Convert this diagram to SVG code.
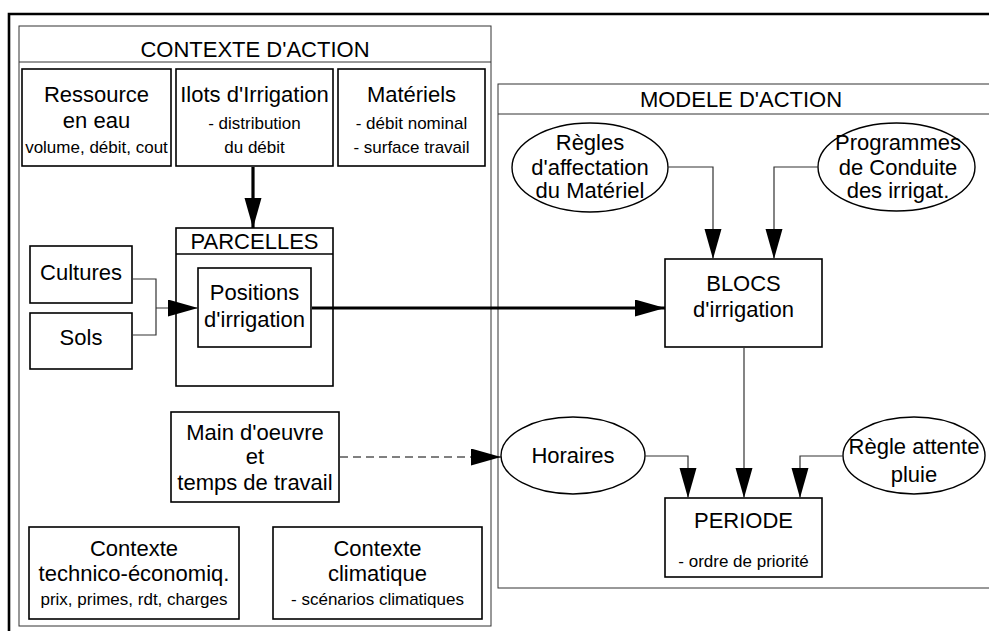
<svg xmlns="http://www.w3.org/2000/svg" width="989" height="631" viewBox="0 0 989 631">
<defs>
<marker id="ah" markerUnits="userSpaceOnUse" markerWidth="31" markerHeight="18" refX="30" refY="8.5" orient="auto">
<path d="M0,0 L30,8.5 L0,17 z" fill="#000"/>
</marker>
</defs>
<style>
text{font-family:"Liberation Sans",Arial,sans-serif;fill:#000;text-anchor:middle}
.b{font-size:22px}
.s{font-size:17px}
.box{fill:#fff;stroke:#000;stroke-width:1.6}
.frame{fill:none;stroke:#333;stroke-width:1}
.ell{fill:#fff;stroke:#000;stroke-width:1.4}
.c{fill:none;stroke:#333;stroke-width:1.2}
.thick{fill:none;stroke:#000;stroke-width:3.2}
</style>
<rect width="989" height="631" fill="#fff"/>
<path d="M9,631 V14 H989" fill="none" stroke="#000" stroke-width="2.6"/>

<g id="contexte-action">
<rect class="frame" x="19" y="26" width="472" height="600"/>
<line class="frame" x1="19" y1="62" x2="491" y2="62"/>
<text class="b" x="255" y="57">CONTEXTE D'ACTION</text>
</g>

<g id="modele-action">
<rect class="frame" x="498" y="84" width="520" height="504"/>
<line class="frame" x1="498" y1="114" x2="989" y2="114"/>
<text class="b" x="741" y="107">MODELE D'ACTION</text>
</g>

<g id="ressource">
<rect class="box" x="22" y="69" width="149" height="97"/>
<text class="b" x="96.5" y="102">Ressource</text>
<text class="b" x="96.5" y="128">en eau</text>
<text class="s" x="96.5" y="153">volume, débit, cout</text>
</g>

<g id="ilots">
<rect class="box" x="176" y="69" width="157" height="97"/>
<text class="b" x="254.5" y="102">Ilots d'Irrigation</text>
<text class="s" x="254.5" y="129">- distribution</text>
<text class="s" x="254.5" y="153">du débit</text>
</g>

<g id="materiels">
<rect class="box" x="338" y="69" width="147" height="97"/>
<text class="b" x="411.5" y="102">Matériels</text>
<text class="s" x="411.5" y="129">- débit nominal</text>
<text class="s" x="411.5" y="153">- surface travail</text>
</g>

<g id="parcelles">
<rect class="box" x="176" y="228" width="157" height="158"/>
<line class="box" x1="176" y1="254" x2="333" y2="254"/>
<text class="b" x="254.5" y="249">PARCELLES</text>
</g>

<g id="positions">
<rect class="box" x="198" y="268" width="113" height="79"/>
<text class="b" x="254.5" y="300">Positions</text>
<text class="b" x="254.5" y="327">d'irrigation</text>
</g>

<g id="cultures">
<rect class="box" x="30" y="246" width="102" height="57"/>
<text class="b" x="81" y="280">Cultures</text>
</g>

<g id="sols">
<rect class="box" x="30" y="313" width="102" height="56"/>
<text class="b" x="81" y="345">Sols</text>
</g>

<g id="main-oeuvre">
<rect class="box" x="171" y="412" width="168" height="90"/>
<text class="b" x="255" y="440">Main d'oeuvre</text>
<text class="b" x="255" y="464">et</text>
<text class="b" x="255" y="490">temps de travail</text>
</g>

<g id="contexte-technico">
<rect class="box" x="29" y="527" width="210" height="92"/>
<text class="b" x="134" y="556">Contexte</text>
<text class="b" x="134" y="581">technico-économiq.</text>
<text class="s" x="134" y="605">prix, primes, rdt, charges</text>
</g>

<g id="contexte-climatique">
<rect class="box" x="273" y="527" width="209" height="92"/>
<text class="b" x="377.5" y="556">Contexte</text>
<text class="b" x="377.5" y="581">climatique</text>
<text class="s" x="377.5" y="605">- scénarios climatiques</text>
</g>

<g id="regles-affectation">
<ellipse class="ell" cx="590" cy="167.5" rx="78" ry="44.5"/>
<text class="b" x="590" y="150">Règles</text>
<text class="b" x="590" y="175">d'affectation</text>
<text class="b" x="590" y="198">du Matériel</text>
</g>

<g id="programmes">
<ellipse class="ell" cx="896.5" cy="167" rx="78.5" ry="44"/>
<text class="b" x="898" y="150">Programmes</text>
<text class="b" x="898" y="175">de Conduite</text>
<text class="b" x="898" y="198">des irrigat.</text>
</g>

<g id="blocs">
<rect class="box" x="665" y="259" width="157" height="88"/>
<text class="b" x="743.5" y="291">BLOCS</text>
<text class="b" x="743.5" y="317">d'irrigation</text>
</g>

<g id="horaires">
<ellipse class="ell" cx="573" cy="455.5" rx="72" ry="38.5"/>
<text class="b" x="573" y="463">Horaires</text>
</g>

<g id="regle-attente">
<ellipse class="ell" cx="914" cy="455.5" rx="71" ry="38.5"/>
<text class="b" x="914" y="454">Règle attente</text>
<text class="b" x="914" y="482">pluie</text>
</g>

<g id="periode">
<rect class="box" x="665" y="498" width="157" height="79"/>
<text class="b" x="743.5" y="528">PERIODE</text>
<text class="s" x="743.5" y="567">- ordre de priorité</text>
</g>

<g id="connectors">
<line class="thick" x1="253" y1="167" x2="253" y2="228" marker-end="url(#ah)"/>
<polyline class="c" points="132,279 156,279 156,335 132,335"/>
<line class="c" x1="156" y1="308" x2="198" y2="308" marker-end="url(#ah)"/>
<line class="thick" x1="312" y1="308" x2="665" y2="308" marker-end="url(#ah)"/>
<polyline class="c" points="668,167 713,167 713,259" marker-end="url(#ah)"/>
<polyline class="c" points="818,167 774,167 774,259" marker-end="url(#ah)"/>
<line class="c" x1="744" y1="348" x2="744" y2="498" marker-end="url(#ah)"/>
<polyline class="c" points="645,456 688,456 688,498" marker-end="url(#ah)"/>
<polyline class="c" points="843,456 800,456 800,498" marker-end="url(#ah)"/>
<line x1="340" y1="457" x2="501" y2="457" stroke="#000" stroke-width="1" stroke-dasharray="8,5" marker-end="url(#ah)"/>
</g>
</svg>
